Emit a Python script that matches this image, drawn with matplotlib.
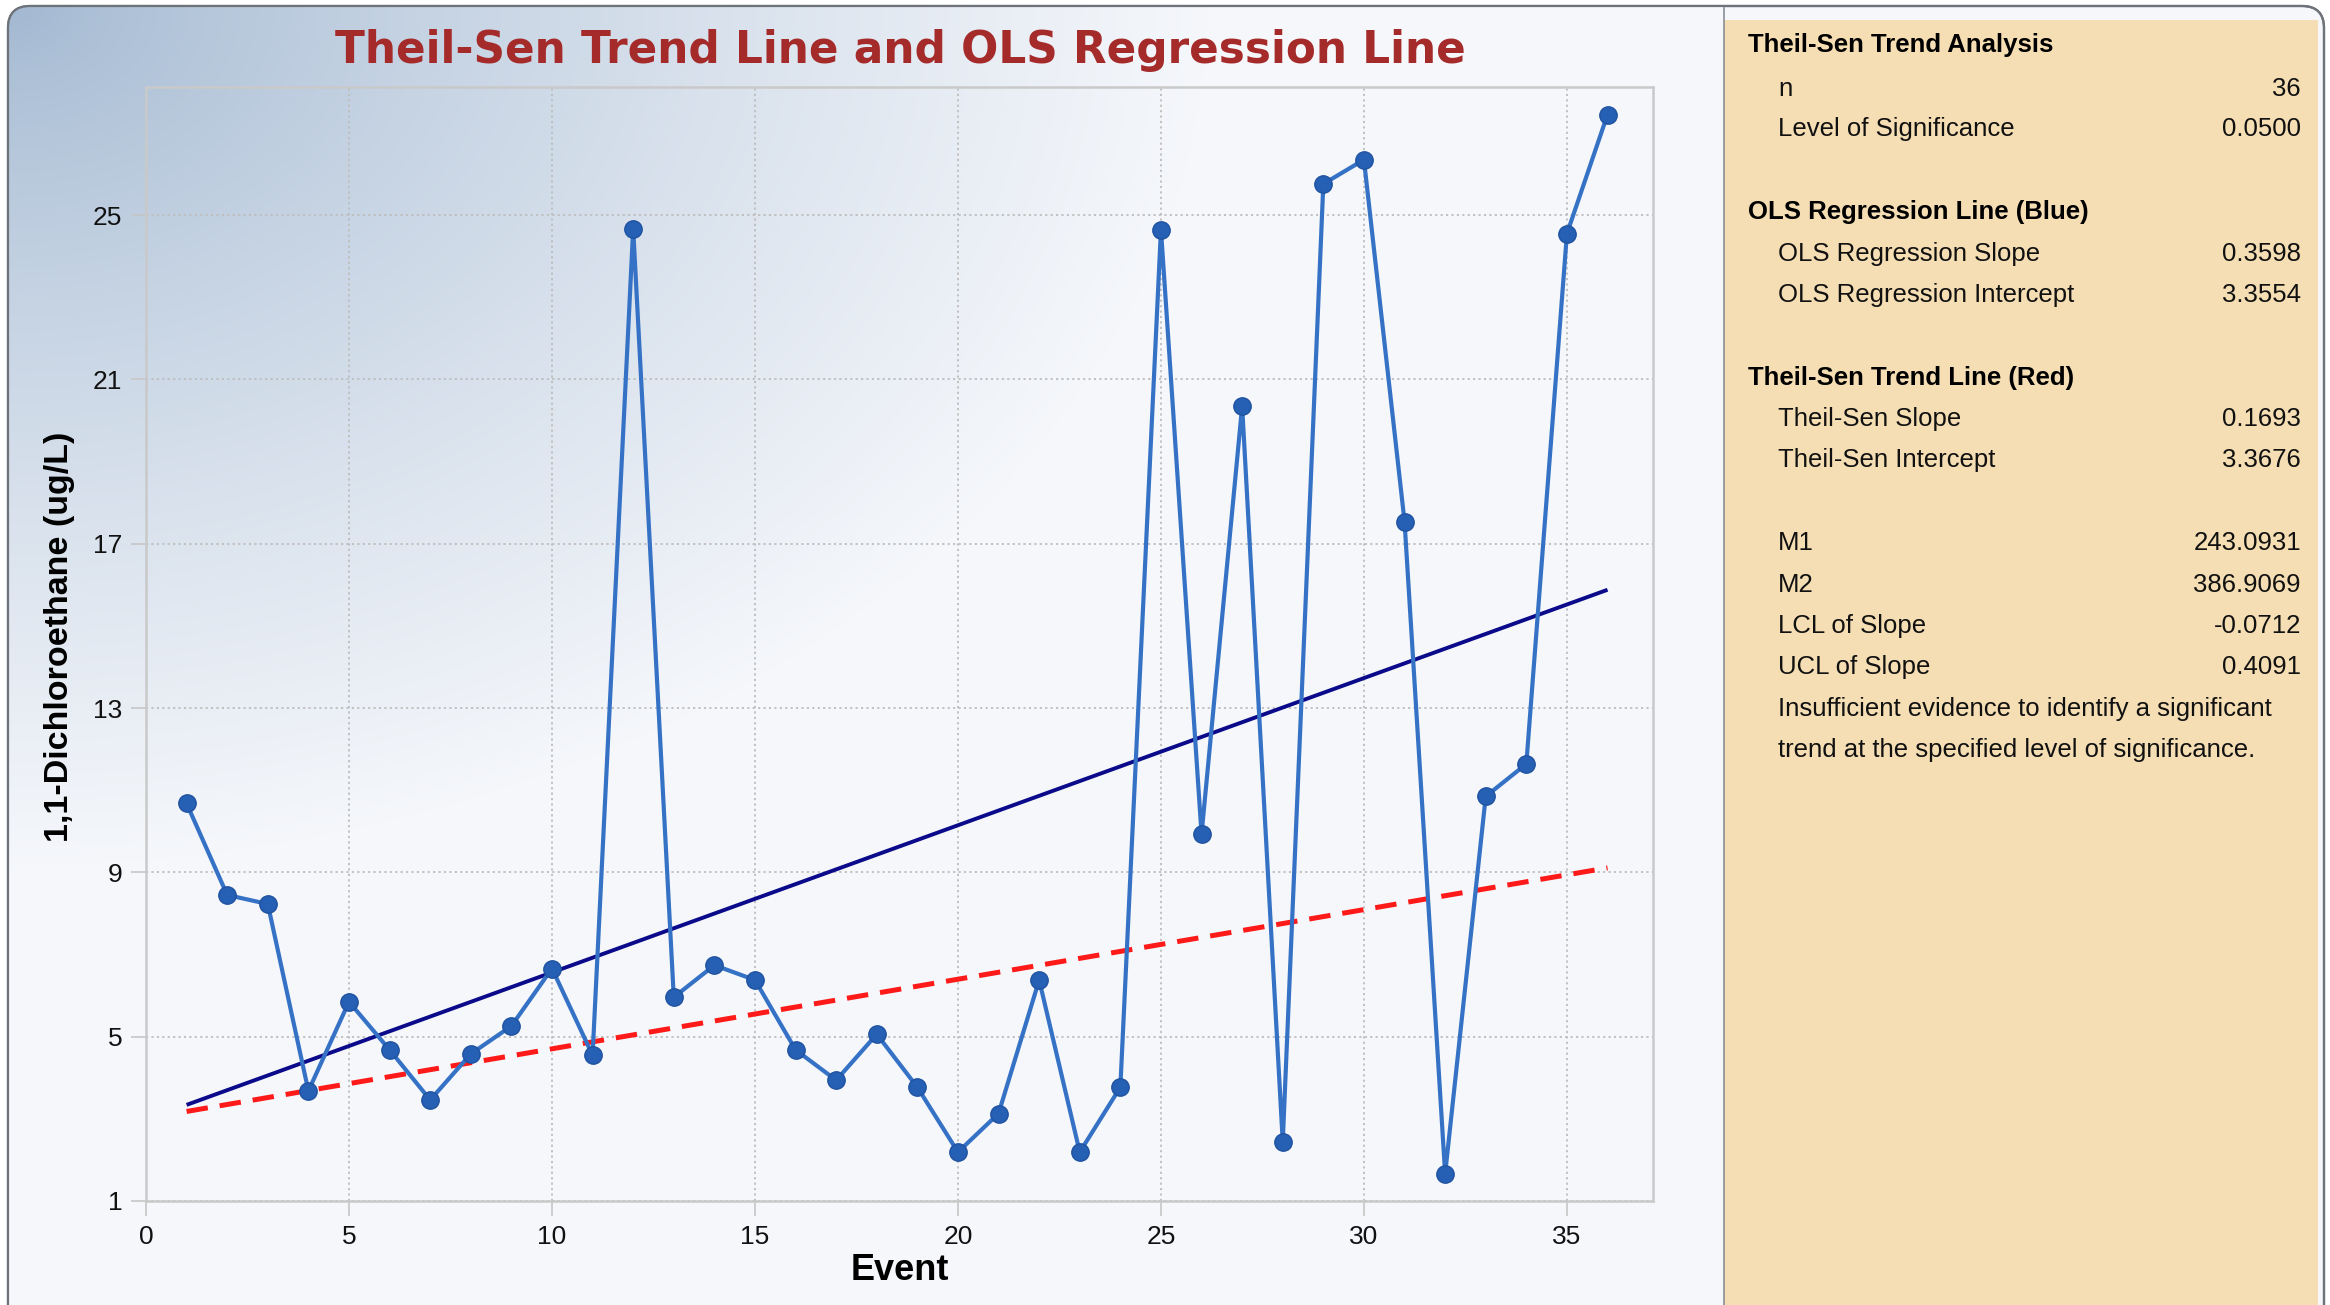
import numpy as np
import matplotlib
matplotlib.use("Agg")
import matplotlib.pyplot as plt
from matplotlib.patches import FancyBboxPatch, Rectangle
from matplotlib import font_manager

# ---------------- data ----------------
events = list(range(1, 37))
concentration = [10.68, 8.45, 8.23, 3.68, 5.85, 4.68, 3.46, 4.58, 5.26, 6.66,
                 4.55, 24.67, 5.96, 6.74, 6.38, 4.68, 3.94, 5.06, 3.77, 2.19,
                 3.13, 6.38, 2.19, 3.77, 24.65, 9.93, 20.35, 2.44, 25.76, 26.35,
                 17.54, 1.66, 10.85, 11.64, 24.55, 27.45]

line_x = [1, 36]
ols_line_y = [3.34, 15.88]         # OLS regression line
theil_sen_line_y = [3.18, 9.11]    # Theil-Sen trend line

x_ticks = [0, 5, 10, 15, 20, 25, 30, 35]
y_ticks = [1, 5, 9, 13, 17, 21, 25]

title = "Theil-Sen Trend Line and OLS Regression Line"
x_label = "Event"
y_label = "1,1-Dichloroethane (ug/L)"

panel_rows = [
    ("header", "Theil-Sen Trend Analysis", ""),
    ("item", "n", "36"),
    ("item", "Level of Significance", "0.0500"),
    ("header", "OLS Regression Line (Blue)", ""),
    ("item", "OLS Regression Slope", "0.3598"),
    ("item", "OLS Regression Intercept", "3.3554"),
    ("header", "Theil-Sen Trend Line (Red)", ""),
    ("item", "Theil-Sen Slope", "0.1693"),
    ("item", "Theil-Sen Intercept", "3.3676"),
    ("item", "M1", "243.0931"),
    ("item", "M2", "386.9069"),
    ("item", "LCL of Slope", "-0.0712"),
    ("item", "UCL of Slope", "0.4091"),
    ("item", "Insufficient evidence to identify a significant", ""),
    ("item", "trend at the specified level of significance.", ""),
]
panel_row_y = [43, 87, 127, 210, 252, 293, 376, 417, 458, 541, 583, 624, 665, 707, 748]

# ---------------- figure ----------------
W, H = 2330, 1305
fig = plt.figure(figsize=(W / 100, H / 100), dpi=100)
fig.patch.set_facecolor("white")

names = {f.name for f in font_manager.fontManager.ttflist}
sans = "Liberation Sans" if "Liberation Sans" in names else "DejaVu Sans"

def fx(x):
    return x / W

def fy(y):
    return 1 - y / H

# background axes in pixel coordinates
bg = fig.add_axes([0, 0, 1, 1])
bg.set_xlim(0, W)
bg.set_ylim(H, 0)
bg.axis("off")

frame = FancyBboxPatch((8, 6), W - 14, H + 40,
                       boxstyle="round,pad=0,rounding_size=22",
                       facecolor="#f5f7fb", edgecolor="#6e737a", lw=1.6, zorder=1)
bg.add_patch(frame)

# gradient in the top-left of the chart area
gx0, gx1, gy0, gy1 = 8, 1724, 6, H
gw, gh = 600, 460
xx, yy = np.meshgrid(np.linspace(0, gx1 - gx0, gw), np.linspace(0, gy1 - gy0, gh))
t = np.sqrt((xx / 1200.0) ** 2 + (yy / 860.0) ** 2)
t = np.clip(t, 0, 1) ** 0.8
c0 = np.array([0.635, 0.722, 0.820])
c1 = np.array([0.961, 0.969, 0.984])
img = c0[None, None, :] * (1 - t[..., None]) + c1[None, None, :] * t[..., None]
im = bg.imshow(img, extent=(gx0, gx1, gy1, gy0), aspect="auto", zorder=2,
               interpolation="bilinear")
im.set_clip_path(frame)

# beige stats panel
bg.add_patch(Rectangle((1724, 20), 2318 - 1724, H, facecolor="#f5deb3",
                       edgecolor="none", zorder=3))
bg.plot([1724, 1724], [8, H], color="#8a8f96", lw=1.2, zorder=4)
bg.add_patch(FancyBboxPatch((8, 6), W - 14, H + 40,
                            boxstyle="round,pad=0,rounding_size=22",
                            facecolor="none", edgecolor="#6e737a", lw=1.6, zorder=5))

# ---------------- main axes ----------------
ax = fig.add_axes([fx(146), fy(1201), (1653 - 146) / W, (1201 - 87) / H])
ax.set_facecolor("none")
ax.set_zorder(10)

ax.plot(events, concentration, color="#3572c6", lw=3.0, zorder=4,
        marker="o", ms=12.5, mfc="#2560b5", mec="#1f52a0", mew=1.0)
ax.plot(line_x, ols_line_y, color="#0a0a8a", lw=2.8, zorder=3,
        solid_capstyle="butt")
ax.plot(line_x, theil_sen_line_y, color="#ff1a1a", lw=3.6, zorder=3,
        linestyle=(0, (4.3, 2.4)))

ax.set_xlim(0, 37.12)
ax.set_ylim(1, 28.12)
ax.set_xticks(x_ticks)
ax.set_yticks(y_ticks)
ax.grid(True, color="#bdbdbd", linestyle=(0, (1.2, 1.8)), lw=1.3)
ax.set_axisbelow(True)
for s in ax.spines.values():
    s.set_color("#c9c9c9")
    s.set_linewidth(1.8)
ax.tick_params(axis="both", length=11, width=1.2, color="#c6c6c6",
               labelsize=19, labelcolor="#111111", pad=6)
for lab in ax.get_xticklabels() + ax.get_yticklabels():
    lab.set_family(sans)

# ---------------- texts ----------------
fig.text(fx(900), fy(63), title, family="DejaVu Sans", fontweight="bold", fontsize=31.5,
         color="#a52a2a", ha="center", va="baseline", zorder=20)
fig.text(fx(900), fy(1280), x_label, family=sans, fontweight="bold", fontsize=26,
         color="black", ha="center", va="baseline", zorder=20)
fig.text(fx(60), fy(637), y_label, family=sans, fontweight="bold", fontsize=24.5,
         color="black", ha="center", va="center", rotation=90, zorder=20)

for (kind, label, value), yc in zip(panel_rows, panel_row_y):
    base = yc + 9
    if kind == "header":
        fig.text(fx(1748), fy(base), label, family=sans, fontweight="bold",
                 fontsize=18.5, color="black", ha="left", va="baseline", zorder=20)
    else:
        fig.text(fx(1778), fy(base), label, family=sans, fontsize=18.5,
                 color="#111111", ha="left", va="baseline", zorder=20)
        if value:
            fig.text(fx(2301), fy(base), value, family=sans, fontsize=18.5,
                     color="#111111", ha="right", va="baseline", zorder=20)

fig.savefig("out.png", dpi=100, facecolor=fig.get_facecolor())
